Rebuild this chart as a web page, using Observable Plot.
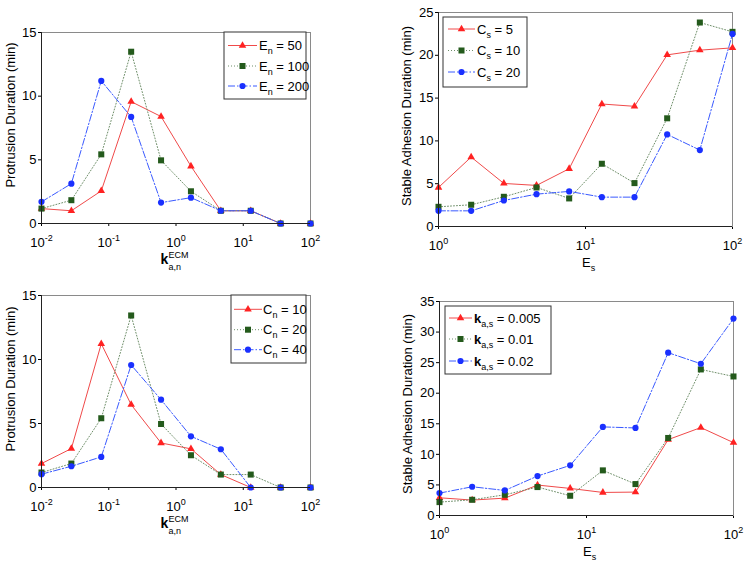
<!DOCTYPE html>
<html>
<head>
<meta charset="utf-8">
<script src="https://cdn.jsdelivr.net/npm/d3@7"></script>
<script src="https://cdn.jsdelivr.net/npm/@observablehq/plot@0.6"></script>
<style>
  html, body { margin: 0; padding: 0; background: #fff; }
  #wrap { position: relative; width: 750px; height: 566px; overflow: hidden; font-family: "Liberation Sans", Arial, sans-serif; }
  .panel { position: absolute; width: 375px; height: 283px; }
</style>
</head>
<body>
<div id="wrap"></div>
<script>
// ---- x values (log spaced) ----
const kECM = [0.01, 0.0278, 0.0774, 0.2154, 0.5995, 1.668, 4.642, 12.92, 35.94, 100];
const Es = [1, 1.668, 2.783, 4.642, 7.743, 12.92, 21.54, 35.94, 59.95, 100];

// ---- tick values ----
const kTicks = [0.01, 0.1, 1, 10, 100];
const EsTicks = [1, 10, 100];
const protTicks = [0, 5, 10, 15];
const adhTicksB = [0, 5, 10, 15, 20, 25];
const adhTicksD = [0, 5, 10, 15, 20, 25, 30, 35];

// ---- Panel A: protrusion duration vs k, varying E_n ----
const protEn50 = [1.17, 1.0, 2.56, 9.57, 8.4, 4.5, 1.0, 1.0, 0, 0];
const protEn100 = [1.17, 1.83, 5.43, 13.49, 4.96, 2.53, 1.0, 1.0, 0, 0];
const protEn200 = [1.7, 3.13, 11.2, 8.37, 1.64, 2.03, 1.0, 1.0, 0, 0];
const legendEn = [["E", "n", " = 50"], ["E", "n", " = 100"], ["E", "n", " = 200"]];

// ---- Panel B: stable adhesion vs E_s, varying C_s ----
const adhCs5 = [4.56, 8.11, 5.03, 4.8, 6.75, 14.31, 14.04, 20.05, 20.6, 20.87];
const adhCs10 = [2.3, 2.54, 3.47, 4.56, 3.28, 7.33, 5.07, 12.64, 23.83, 22.74];
const adhCs20 = [1.83, 1.83, 3.04, 3.78, 4.1, 3.43, 3.43, 10.76, 8.93, 22.5];
const legendCs = [["C", "s", " = 5"], ["C", "s", " = 10"], ["C", "s", " = 20"]];

// ---- Panel C: protrusion duration vs k, varying C_n ----
const protCn10 = [1.87, 3.04, 11.23, 6.47, 3.48, 3.02, 1.01, 0, 0, 0];
const protCn20 = [1.17, 1.87, 5.41, 13.44, 4.96, 2.52, 1.01, 1.01, 0, 0];
const protCn40 = [1.04, 1.66, 2.39, 9.57, 6.86, 4.0, 2.99, 0, 0, 0];
const legendCn = [["C", "n", " = 10"], ["C", "n", " = 20"], ["C", "n", " = 40"]];

// ---- Panel D: stable adhesion vs E_s, varying k_a,s ----
const adhK005 = [2.9, 2.52, 2.84, 4.98, 4.43, 3.77, 3.83, 12.41, 14.38, 11.92];
const adhK01 = [2.19, 2.57, 3.39, 4.65, 3.23, 7.38, 5.14, 12.68, 23.89, 22.74];
const adhK02 = [3.66, 4.7, 4.1, 6.45, 8.2, 14.49, 14.32, 26.63, 24.82, 32.2];
const legendK = [["k", "a,s", " = 0.005"], ["k", "a,s", " = 0.01"], ["k", "a,s", " = 0.02"]];

// ---- styles ----
const styles = [
  {line: "#f04a4a", dash: null, fill: "#ff2222", symbol: "triangle", r: 2.8},
  {line: "#6f8f6a", dash: "1,2", fill: "#245a1c", symbol: "square", r: 3.4},
  {line: "#3a5aff", dash: "7,2,1.5,2", fill: "#1a30ff", symbol: "circle", r: 3.1}
];

function makePanel(cfg) {
  const data = [];
  cfg.series.forEach((ys, si) => ys.forEach((y, i) => data.push({x: cfg.xs[i], y, s: si})));
  const marks = [Plot.frame({stroke: "#8a8a8a"})];
  styles.forEach((st, si) => {
    const d = data.filter(p => p.s === si);
    marks.push(Plot.line(d, {x: "x", y: "y", stroke: st.line, strokeWidth: 1, strokeDasharray: st.dash}));
  });
  styles.forEach((st, si) => {
    const d = data.filter(p => p.s === si);
    marks.push(Plot.dot(d, {x: "x", y: "y", symbol: () => st.symbol, fill: st.fill, stroke: "none", r: st.r}));
  });
  marks.push(Plot.ruleX([cfg.xDomain[0]], {stroke: "#222"}));
  marks.push(Plot.ruleY([cfg.yDomain[0]], {stroke: "#222"}));

  const svg = Plot.plot({
    width: 375, height: 283,
    marginLeft: cfg.m[0], marginRight: cfg.m[1], marginTop: cfg.m[2], marginBottom: cfg.m[3],
    style: {fontFamily: "'Liberation Sans', Arial, sans-serif", fontSize: "13px", color: "#000", background: "transparent"},
    x: {type: "log", domain: cfg.xDomain, ticks: cfg.xTicks, tickSize: 3, tickPadding: 11,
        tickFormat: d => "10^" + Math.round(Math.log10(d)), label: null},
    y: {domain: cfg.yDomain, ticks: cfg.yTicks, tickSize: 3, tickPadding: 2, label: null},
    symbol: {type: "identity"},
    marks
  });

  const s = d3.select(svg);
  // superscripts on tick labels
  s.selectAll('g[aria-label^="x-axis"] text').each(function() {
    const t = this.textContent;
    if (t.includes("^")) {
      const [base, ex] = t.split("^");
      const el = d3.select(this);
      el.text(base);
      el.append("tspan").attr("dy", "-0.62em").attr("font-size", "9px").text(ex);
    }
  });

  const W = 375, H = 283;
  const x0 = cfg.m[0], x1 = W - cfg.m[1], y0 = cfg.m[2], y1 = H - cfg.m[3];
  const font = "'Liberation Sans', Arial, sans-serif";

  // y label
  s.append("text")
    .attr("transform", `translate(${cfg.yLabelX},${cfg.yLabelY}) rotate(-90)`)
    .attr("text-anchor", "middle").attr("font-family", font).attr("font-size", "13px")
    .attr("fill", "#000").text(cfg.ylabel);

  // x label
  const xl = s.append("g").attr("transform", `translate(${(x0 + x1) / 2},${y1 + 41})`)
    .attr("font-family", font).attr("fill", "#000").attr("text-anchor", "start");
  if (cfg.xlabel === "k") {
    xl.append("text").attr("x", -15).attr("font-size", "14px").attr("font-weight", "bold").text("k");
    xl.append("text").attr("x", -7).attr("y", -6).attr("font-size", "9px").text("ECM");
    xl.append("text").attr("x", -7).attr("y", 6).attr("font-size", "9px").text("a,n");
  } else {
    xl.append("text").attr("x", -3).attr("font-size", "13px").text("E")
      .append("tspan").attr("dy", 4).attr("font-size", "9px").text("s");
  }

  // legend
  const L = cfg.legend;
  const lg = s.append("g").attr("font-family", font).attr("text-anchor", "start");
  lg.append("rect").attr("x", L.x).attr("y", L.y).attr("width", L.w).attr("height", L.h)
    .attr("fill", "#fff").attr("stroke", "#333").attr("stroke-width", 1);
  cfg.labels.forEach((lab, i) => {
    const st = styles[i];
    const yy = L.ey[i];
    lg.append("line").attr("x1", L.lx0).attr("x2", L.lx1).attr("y1", yy).attr("y2", yy)
      .attr("stroke", st.line).attr("stroke-width", 1).attr("stroke-dasharray", st.dash);
    const sym = {triangle: d3.symbolTriangle, square: d3.symbolSquare, circle: d3.symbolCircle}[st.symbol];
    lg.append("path").attr("d", d3.symbol(sym, st.r * st.r * Math.PI)())
      .attr("transform", `translate(${(L.lx0 + L.lx1) / 2},${yy})`).attr("fill", st.fill);
    const t = lg.append("text").attr("x", L.tx).attr("y", yy + 4.5).attr("font-size", "13px")
      .attr("fill", "#000").attr("text-anchor", "start");
    t.append("tspan").attr("font-weight", lab[0] === "k" ? "bold" : null).text(lab[0]);
    t.append("tspan").attr("dy", 4).attr("font-size", "9px").text(lab[1]);
    t.append("tspan").attr("dy", -4).text(lab[2]);
  });

  const div = document.createElement("div");
  div.className = "panel";
  div.style.left = cfg.pos[0] + "px";
  div.style.top = cfg.pos[1] + "px";
  div.appendChild(svg);
  document.getElementById("wrap").appendChild(div);
}

makePanel({
  pos: [0, 0], m: [41, 65, 32, 60],
  xs: kECM, xDomain: [0.01, 100], xTicks: kTicks,
  yDomain: [0, 15], yTicks: protTicks,
  series: [protEn50, protEn100, protEn200], labels: legendEn,
  ylabel: "Protrusion Duration (min)", yLabelX: 15, yLabelY: 115, xlabel: "k",
  legend: {x: 224, y: 32, w: 82, h: 67, ey: [45.5, 66, 86], lx0: 228, lx1: 257, tx: 259}
});
makePanel({
  pos: [375, 0], m: [63, 18, 12, 57],
  xs: Es, xDomain: [1, 100], xTicks: EsTicks,
  yDomain: [0, 25], yTicks: adhTicksB,
  series: [adhCs5, adhCs10, adhCs20], labels: legendCs,
  ylabel: "Stable Adhesion Duration (min)", yLabelX: 36, yLabelY: 116, xlabel: "E",
  legend: {x: 68, y: 17, w: 84, h: 70, ey: [29, 50.5, 72], lx0: 73, lx1: 100, tx: 102}
});
makePanel({
  pos: [0, 283], m: [41, 65, 12, 79],
  xs: kECM, xDomain: [0.01, 100], xTicks: kTicks,
  yDomain: [0, 15], yTicks: protTicks,
  series: [protCn10, protCn20, protCn40], labels: legendCn,
  ylabel: "Protrusion Duration (min)", yLabelX: 15, yLabelY: 96, xlabel: "k",
  legend: {x: 231, y: 12, w: 75, h: 68, ey: [26.3, 46.7, 66.7], lx0: 234, lx1: 262, tx: 263}
});
makePanel({
  pos: [375, 283], m: [64, 17, 18, 51],
  xs: Es, xDomain: [1, 100], xTicks: EsTicks,
  yDomain: [0, 35], yTicks: adhTicksD,
  series: [adhK005, adhK01, adhK02], labels: legendK,
  ylabel: "Stable Adhesion Duration (min)", yLabelX: 37, yLabelY: 121, xlabel: "E",
  legend: {x: 70, y: 23, w: 106, h: 68, ey: [35, 56, 78], lx0: 74, lx1: 97, tx: 99}
});
</script>
</body>
</html>
